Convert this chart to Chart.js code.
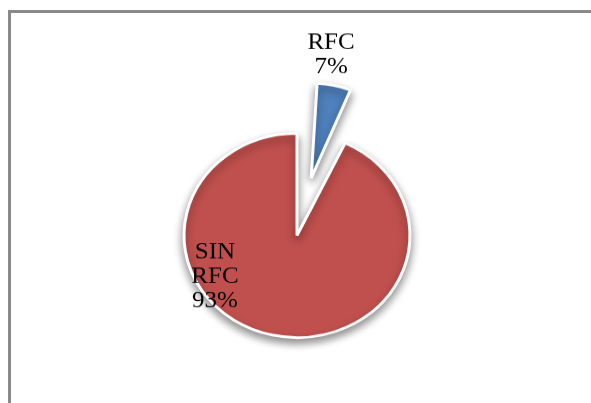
<!DOCTYPE html>
<html>
<head>
<meta charset="utf-8">
<script src="https://cdn.jsdelivr.net/npm/chart.js@4/dist/chart.umd.min.js"></script>
<style>
  html, body { margin: 0; padding: 0; background: #fff; overflow: hidden; }
  #frame {
    position: absolute; left: 8px; top: 10px;
    width: 620px; height: 420px;
    border: 3px solid #8a8a8a;
  }
  #myChart { position: absolute; left: 0; top: 0; }
</style>
</head>
<body>
<div id="frame"></div>
<canvas id="myChart" width="591" height="446" style="width:591px;height:403px"></canvas>
<script>
const categories = ['RFC', 'SIN RFC'];
const shares = [7, 93];
const colors = ['#4f81bd', '#c0504d'];

// label placement: angle shift from slice middle (deg) and radius factor
const labelShift = [-4.3, 48.4];
const labelRadius = [1.31, 0.83];
// the exploded slice is drawn a bit smaller than the pie, like in the original
const sliceScale = [0.93, 1];

// chart.js grows an exploded arc's radius; undo that and apply sliceScale
const explodePlugin = {
    id: 'explodeSize',
    afterDatasetsUpdate(chart) {
        const meta = chart.getDatasetMeta(0);
        const R = meta.controller.outerRadius;
        meta.data.forEach((arc, i) => {
            const off = (arc.options.offset || 0) / 4;
            const fix = 1 - Math.sin(Math.min(Math.PI, arc.circumference));
            arc.outerRadius = R * sliceScale[i] - off * fix;
        });
    }
};

const shadowPlugin = {
    id: 'shadow',
    beforeDatasetsDraw(chart) {
        const ctx = chart.ctx;
        ctx.save();
        ctx.shadowColor = 'rgba(0, 0, 0, 0.45)';
        ctx.shadowBlur = 10;
        ctx.shadowOffsetX = 0;
        ctx.shadowOffsetY = 5;
    },
    afterDatasetsDraw(chart) {
        chart.ctx.restore();
    }
};

const labelPlugin = {
    id: 'sliceLabels',
    afterDraw(chart) {
        const ctx = chart.ctx;
        const meta = chart.getDatasetMeta(0);
        const R = meta.controller.outerRadius;
        const total = shares.reduce((a, b) => a + b, 0);
        ctx.save();
        ctx.font = '25px "Liberation Serif", "Times New Roman", serif';
        ctx.fillStyle = '#000';
        ctx.textAlign = 'center';
        ctx.textBaseline = 'middle';
        meta.data.forEach((arc, i) => {
            const off = (arc.options.offset || 0) / 4;
            const mid = (arc.startAngle + arc.endAngle) / 2;
            const cx = arc.x + Math.cos(mid) * off;
            const cy = arc.y + Math.sin(mid) * off;
            const a = mid + labelShift[i] * Math.PI / 180;
            const r = R * sliceScale[i] * labelRadius[i];
            const lx = cx + Math.cos(a) * r;
            const ly = cy + Math.sin(a) * r;
            const lines = categories[i].split(' ');
            lines.push(Math.round(shares[i] / total * 100) + '%');
            const lh = 27;
            const top = ly - (lines.length - 1) * lh / 2;
            lines.forEach((t, k) => ctx.fillText(t, lx, top + k * lh));
        });
        ctx.restore();
    }
};

const ctx = document.getElementById('myChart').getContext('2d');

const myChart = new Chart(ctx, {
    type: 'pie',
    data: {
        labels: categories,
        datasets: [{
            data: shares,
            backgroundColor: colors,
            borderColor: '#ffffff',
            borderWidth: 3,
            offset: [260, 0],
            radius: 113
        }]
    },
    options: {
        responsive: false,
        maintainAspectRatio: false,
        animation: false,
        events: [],
        layout: {
            padding: {left: 3, right: 0, top: 75, bottom: 0}
        },
        plugins: {
            legend: {display: false},
            tooltip: {enabled: false}
        }
    },
    plugins: [explodePlugin, shadowPlugin, labelPlugin]
});
</script>
</body>
</html>
